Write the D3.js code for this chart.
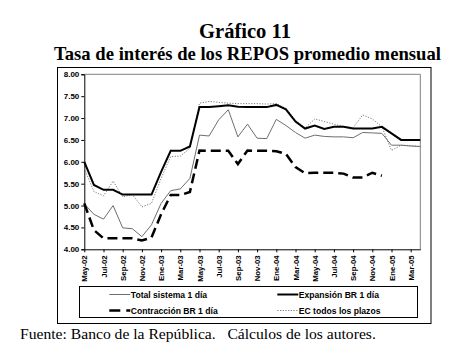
<!DOCTYPE html>
<html><head><meta charset="utf-8">
<script src="https://cdn.jsdelivr.net/npm/d3@7"></script>
<style>body{margin:0;background:#fff}svg{display:block}</style>
</head><body>
<svg id="c" width="474" height="356"></svg>
<script>
const months = ["May-02","Jun-02","Jul-02","Ago-02","Sep-02","Oct-02","Nov-02","Dic-02","Ene-03","Feb-03","Mar-03","Abr-03","May-03","Jun-03","Jul-03","Ago-03","Sep-03","Oct-03","Nov-03","Dic-03","Ene-04","Feb-04","Mar-04","Abr-04","May-04","Jun-04","Jul-04","Ago-04","Sep-04","Oct-04","Nov-04","Dic-04","Ene-05","Feb-05","Mar-05","Abr-05"];
const tickLabels = ["May-02","Jul-02","Sep-02","Nov-02","Ene-03","Mar-03","May-03","Jul-03","Sep-03","Nov-03","Ene-04","Mar-04","May-04","Jul-04","Sep-04","Nov-04","Ene-05","Mar-05"];
const yTicks = [4.00,4.50,5.00,5.50,6.00,6.50,7.00,7.50,8.00];
const totalSistema = [5.04,4.80,4.69,5.00,4.49,4.47,4.29,4.56,5.05,5.34,5.38,5.62,6.61,6.59,6.96,7.19,6.57,6.86,6.54,6.53,6.97,6.83,6.67,6.54,6.61,6.58,6.57,6.57,6.55,6.67,6.66,6.65,6.38,6.38,6.36,6.35];
const expansion = [6.00,5.47,5.36,5.36,5.25,5.25,5.25,5.25,5.77,6.25,6.25,6.35,7.25,7.25,7.27,7.29,7.26,7.25,7.25,7.25,7.30,7.20,6.92,6.76,6.83,6.75,6.80,6.80,6.76,6.76,6.76,6.80,6.65,6.50,6.50,6.50];
const contraccion = [5.05,4.44,4.25,4.25,4.25,4.25,4.20,4.27,4.80,5.24,5.24,5.31,6.26,6.25,6.25,6.25,5.95,6.26,6.25,6.25,6.24,6.18,5.88,5.74,5.75,5.75,5.75,5.73,5.64,5.64,5.75,5.68,null,null,null,null];
const ecTodos = [5.85,5.32,5.22,5.56,5.20,5.25,4.97,5.05,5.62,6.12,6.13,6.31,7.34,7.38,7.36,7.34,7.33,7.33,7.33,7.32,7.33,7.22,6.95,6.77,6.98,6.92,6.86,6.81,6.78,7.07,6.98,6.80,6.26,6.38,6.37,6.35];
const seriesNames = ["Total sistema 1 día","Expansión BR 1 día","Contracción BR 1 día","EC todos los plazos"];
const titleLines = ["Gráfico 11","Tasa de interés de los REPOS promedio mensual"];
const sourceText = "Fuente: Banco de la República.   Cálculos de los autores.";

const SERIF = "'Liberation Serif', 'Times New Roman', 'DejaVu Serif', serif";
const SANS = "'Liberation Sans', Arial, sans-serif";

const svg = d3.select("#c");
svg.append("rect").attr("width",474).attr("height",356).attr("fill","#fff");

const L = 84.3, R = 420.3, T = 74.3, B = 249.3;
const x = d3.scalePoint().domain(months).range([L, R]);
const y = d3.scaleLinear().domain([4, 8]).range([B, T]);

function fit(sel, w) {
  const cur = parseFloat(sel.attr("font-size"));
  const m = sel.node().getComputedTextLength();
  sel.attr("font-size", (cur * w / m).toFixed(2));
}

// titles
const t1 = svg.append("text").attr("x",245).attr("y",38).attr("text-anchor","middle")
  .style("font-family",SERIF).style("font-weight","bold")
  .attr("font-size",16).attr("fill","#000").text(titleLines[0]);
fit(t1, 92);
const t2 = svg.append("text").attr("x",247.5).attr("y",60).attr("text-anchor","middle")
  .style("font-family",SERIF).style("font-weight","bold")
  .attr("font-size",16).attr("fill","#000").text(titleLines[1]);
fit(t2, 387);

// outer frame
svg.append("rect").attr("x",57.5).attr("y",67.5).attr("width",373.5).attr("height",256)
  .attr("fill","none").attr("stroke","#000").attr("stroke-width",1);

// plot border (top/right gray)
svg.append("path").attr("d",`M${L},${T}H${R}V${B}`).attr("fill","none").attr("stroke","#808080").attr("stroke-width",1);

// y axis
const yAxis = d3.axisLeft(y).tickValues(yTicks).tickSize(3).tickPadding(2).tickFormat(d3.format(".2f"));
const gy = svg.append("g").attr("transform",`translate(${L},0)`).call(yAxis);
gy.select(".domain").attr("stroke","#000");
gy.selectAll("text").style("font-family",SANS).style("font-weight","bold").attr("font-size",8).attr("fill","#000");

// x axis
const xAxis = d3.axisBottom(x).tickValues(tickLabels).tickSize(3).tickSizeOuter(0);
const gx = svg.append("g").attr("transform",`translate(0,${B})`).call(xAxis);
gx.select(".domain").attr("stroke","#000");
gx.selectAll("text").style("font-family",SANS).style("font-weight","bold").attr("font-size",7.8).attr("fill","#000")
  .attr("transform","rotate(-90)").attr("text-anchor","end").attr("dy","0.32em").attr("x",-6).attr("y",0);

// lines
const line = d3.line().defined(d => d != null).x((d,i) => x(months[i])).y(d => y(d));
const styles = [
  {data: totalSistema, stroke:"#6e6e6e", w:1, dash:null},
  {data: expansion, stroke:"#000", w:2, dash:null},
  {data: contraccion, stroke:"#000", w:2.5, dash:"10,5"},
  {data: ecTodos, stroke:"#7a7a7a", w:1, dash:"1.2,1.5"}
];
const drawOrder = [3,0,2,1];
drawOrder.forEach(k => {
  const s = styles[k];
  svg.append("path").datum(s.data).attr("d", line).attr("fill","none")
    .attr("stroke", s.stroke).attr("stroke-width", s.w).attr("stroke-dasharray", s.dash)
    .attr("stroke-linejoin","miter");
});

// legend
svg.append("rect").attr("x",79.5).attr("y",286.5).attr("width",338).attr("height",31)
  .attr("fill","#fff").attr("stroke","#000").attr("stroke-width",1);
const legPos = [[109.3,294.5],[277.3,294.5],[109.3,310.5],[277.3,310.5]];
seriesNames.forEach((n,k) => {
  const [lx, ly] = legPos[k];
  const s = styles[k];
  svg.append("line").attr("x1",lx).attr("x2",lx+21).attr("y1",ly).attr("y2",ly)
    .attr("stroke",s.stroke).attr("stroke-width",s.w).attr("stroke-dasharray", s.dash ? (k===2 ? "11,6" : s.dash) : null);
  svg.append("text").attr("x",lx+21.5).attr("y",ly).attr("dy","0.35em")
    .style("font-family",SANS).style("font-weight","bold")
    .attr("font-size",8.6).attr("fill","#000").text(n);
});

// source
const src = svg.append("text").attr("x",20).attr("y",339).attr("xml:space","preserve")
  .style("white-space","pre")
  .style("font-family",SERIF).attr("font-size",15).attr("fill","#000").text(sourceText);
fit(src, 356);
</script>
</body></html>
